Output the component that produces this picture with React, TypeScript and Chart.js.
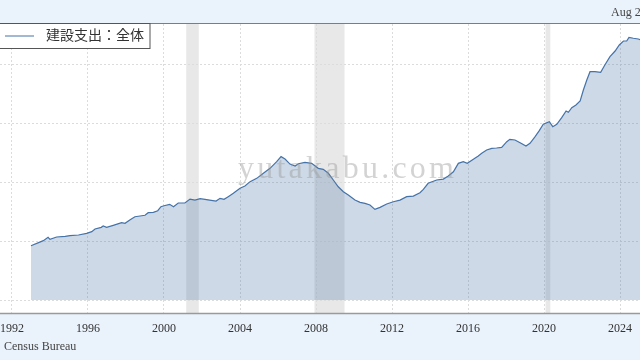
import React, { useEffect, useRef } from "react";
import { Chart, registerables } from "chart.js";

Chart.register(...registerables);

// Decimal-year dates and total construction spending (billions USD, SAAR)
const dates: number[] = [
  1993.0, 1993.4, 1993.65, 1993.9, 1994.0, 1994.35, 1994.8, 1995.05, 1995.5, 1995.93,
  1996.2, 1996.37, 1996.7, 1996.8, 1996.98, 1997.33, 1997.77, 1997.95, 1998.2, 1998.47,
  1998.74, 1999.0, 1999.17, 1999.44, 1999.67, 1999.84, 2000.0, 2000.3, 2000.5, 2000.75,
  2001.1, 2001.37, 2001.63, 2001.9, 2002.16, 2002.4, 2002.74, 2002.95, 2003.16, 2003.38,
  2003.65, 2004.0, 2004.26, 2004.53, 2004.88, 2005.23, 2005.58, 2005.93, 2006.16, 2006.37,
  2006.63, 2006.9, 2007.07, 2007.42, 2007.77, 2008.12, 2008.38, 2008.65, 2008.91, 2009.17,
  2009.44, 2009.7, 2010.05, 2010.32, 2010.58, 2010.84, 2011.1, 2011.37, 2011.72, 2012.07,
  2012.42, 2012.77, 2013.12, 2013.47, 2013.65, 2013.9, 2014.35, 2014.7, 2014.96, 2015.23,
  2015.49, 2015.75, 2015.96, 2016.28, 2016.54, 2016.72, 2016.98, 2017.25, 2017.5, 2017.77,
  2018.04, 2018.2, 2018.47, 2018.74, 2019.05, 2019.26, 2019.53, 2019.75, 2019.96, 2020.28,
  2020.46, 2020.67, 2020.93, 2021.16, 2021.28, 2021.46, 2021.68, 2021.9, 2022.07, 2022.25,
  2022.42, 2022.68, 2022.98, 2023.2, 2023.47, 2023.74, 2023.96, 2024.18, 2024.35, 2024.47,
  2024.7, 2024.96, 2025.2, 2025.5,
];

const spending: number[] = [
  460, 486, 503, 531, 514, 534, 540, 545, 551, 565,
  579, 602, 616, 627, 616, 633, 655, 650, 678, 706,
  712, 718, 740, 743, 757, 791, 799, 811, 791, 822,
  822, 855, 846, 859, 853, 847, 839, 862, 853, 876,
  904, 947, 966, 1003, 1031, 1074, 1116, 1172, 1215, 1195,
  1152, 1136, 1155, 1167, 1158, 1116, 1107, 1074, 1017, 960,
  918, 890, 847, 828, 819, 805, 768, 785, 814, 833,
  847, 876, 881, 909, 938, 989, 1017, 1025, 1051, 1087,
  1158, 1172, 1158, 1192, 1220, 1243, 1271, 1285, 1288, 1294,
  1342, 1362, 1356, 1333, 1305, 1328, 1384, 1435, 1489, 1511,
  1469, 1489, 1545, 1602, 1591, 1630, 1653, 1687, 1780, 1864,
  1935, 1935, 1930, 1992, 2062, 2110, 2161, 2195, 2195, 2226,
  2218, 2212, 2200, 2170,
];

const yearTicks: number[] = [1992, 1996, 2000, 2004, 2008, 2012, 2016, 2020, 2024];
const valueTicks: number[] = [0, 500, 1000, 1500, 2000];

// Recessions [start, end] in decimal years
const recessionStarts: number[] = [2001.17, 2007.92, 2020.08];
const recessionEnds: number[] = [2001.83, 2009.5, 2020.33];

const seriesLabel = "建設支出：全体";
const dateLabel = "Aug 2025";
const sourceLabel = "Census Bureau";
const watermark = "yutakabu.com";

const X_MIN = 1991.37;
const X_MAX = 2025.05;
const Y_MIN = -110;
const Y_MAX = 2339;

const SERIF = "'Liberation Serif', 'DejaVu Serif', 'Noto Sans CJK JP', serif";
const LINE = "#4572a7";
const BG = "#eaf2fb";

const decorPlugin = {
  id: "decor",
  beforeDraw(chart: any) {
    const { ctx, chartArea, scales, width, height } = chart;
    ctx.save();
    ctx.fillStyle = BG;
    ctx.fillRect(0, 0, width, height);
    ctx.fillStyle = "#ffffff";
    ctx.fillRect(chartArea.left, chartArea.top, chartArea.right - chartArea.left, chartArea.bottom - chartArea.top);
    ctx.fillStyle = "#e8e8e8";
    for (let i = 0; i < recessionStarts.length; i++) {
      const x1 = scales.x.getPixelForValue(recessionStarts[i]);
      const x2 = scales.x.getPixelForValue(recessionEnds[i]);
      ctx.fillRect(x1, chartArea.top, x2 - x1, chartArea.bottom - chartArea.top);
    }
    ctx.restore();
  },
  afterDatasetsDraw(chart: any) {
    const { ctx, chartArea, width } = chart;
    ctx.save();
    ctx.font = `32px ${SERIF}`;
    const w = ctx.measureText(watermark).width;
    const target = 216;
    (ctx as any).letterSpacing = `${Math.max(0, (target - w) / (watermark.length - 1))}px`;
    ctx.fillStyle = "rgba(150,150,150,0.42)";
    ctx.textBaseline = "alphabetic";
    ctx.textAlign = "left";
    ctx.fillText(watermark, 238, 178);
    (ctx as any).letterSpacing = "0px";
    ctx.strokeStyle = "#7d7d7d";
    ctx.lineWidth = 1;
    ctx.beginPath();
    ctx.moveTo(0, chartArea.top - 0.5);
    ctx.lineTo(width, chartArea.top - 0.5);
    ctx.stroke();
    ctx.strokeStyle = "#9a9a9a";
    ctx.lineWidth = 1.5;
    ctx.beginPath();
    ctx.moveTo(0, chartArea.bottom + 0.5);
    ctx.lineTo(width, chartArea.bottom + 0.5);
    ctx.stroke();
    ctx.restore();
  },
  afterDraw(chart: any) {
    const { ctx, chartArea } = chart;
    ctx.save();
    const top = chartArea.top - 0.5;
    ctx.fillStyle = "#ffffff";
    ctx.fillRect(-1, top, 151, 25);
    ctx.strokeStyle = "#555555";
    ctx.lineWidth = 1;
    ctx.strokeRect(-0.5, top, 150.5, 25);
    ctx.strokeStyle = LINE;
    ctx.lineWidth = 1;
    ctx.beginPath();
    ctx.moveTo(5, top + 12.5);
    ctx.lineTo(34, top + 12.5);
    ctx.stroke();
    ctx.fillStyle = "#333333";
    ctx.font = `14px ${SERIF}`;
    ctx.textBaseline = "middle";
    ctx.textAlign = "left";
    ctx.fillText(seriesLabel, 46, top + 13);
    ctx.font = `12px ${SERIF}`;
    ctx.fillStyle = "#444444";
    ctx.fillText(dateLabel, 611, 13);
    ctx.fillText(sourceLabel, 4, 347);
    ctx.restore();
  },
};

export default function App() {
  const ref = useRef<HTMLCanvasElement | null>(null);
  useEffect(() => {
    if (!ref.current) return;
    const chart = new Chart(ref.current, {
      type: "line",
      data: {
        datasets: [
          {
            label: seriesLabel,
            data: dates.map((d, i) => ({ x: d, y: spending[i] })),
            borderColor: LINE,
            borderWidth: 1.2,
            backgroundColor: "rgba(69,114,167,0.27)",
            fill: "origin",
            pointRadius: 0,
            tension: 0,
          },
        ],
      },
      options: {
        animation: false,
        responsive: false,
        maintainAspectRatio: false,
        layout: { padding: { top: 24, left: 0, right: 0, bottom: 0 } },
        plugins: { legend: { display: false }, tooltip: { enabled: false } },
        scales: {
          x: {
            type: "linear",
            min: X_MIN,
            max: X_MAX,
            afterBuildTicks: (s: any) => {
              s.ticks = yearTicks.map((v) => ({ value: v }));
            },
            afterFit: (s: any) => {
              s.height = 47;
              s.paddingLeft = 0;
              s.paddingRight = 0;
            },
            grid: { color: "#dcdcdc", drawTicks: false, lineWidth: 1 },
            border: { display: false, dash: [2, 2] },
            ticks: {
              padding: 9,
              color: "#333333",
              font: { family: SERIF, size: 12 },
              maxRotation: 0,
              autoSkip: false,
              callback: (v: any) => String(v),
            },
          },
          y: {
            type: "linear",
            min: Y_MIN,
            max: Y_MAX,
            afterBuildTicks: (s: any) => {
              s.ticks = valueTicks.map((v) => ({ value: v }));
            },
            afterFit: (s: any) => {
              s.width = 0;
              s.paddingTop = 0;
              s.paddingBottom = 0;
            },
            grid: { color: "#dcdcdc", drawTicks: false, lineWidth: 1 },
            border: { display: false, dash: [2, 2] },
            ticks: { display: false },
          },
        },
      },
      plugins: [decorPlugin],
    } as any);
    return () => chart.destroy();
  }, []);
  return (
    <div style={{ position: "fixed", left: 0, top: 0, width: 640, height: 360 }}>
      <canvas ref={ref} width={640} height={360} style={{ display: "block" }} />
    </div>
  );
}
